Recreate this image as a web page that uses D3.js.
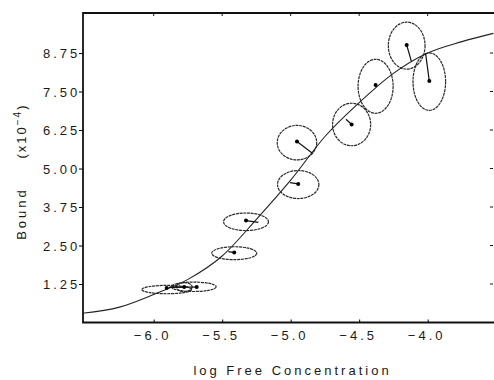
<!DOCTYPE html>
<html>
<head>
<meta charset="utf-8">
<script src="https://cdn.jsdelivr.net/npm/d3@7"></script>
<style>
  body { margin: 0; background: #fff; }
  text { font-family: "Liberation Sans", Arial, sans-serif; fill: #1a1a1a; }
</style>
</head>
<body>
<div id="container"></div>
<script>
// fitted binding curve
const curveX = [-6.52, -6.25, -6.0, -5.75, -5.5, -5.25, -5.0, -4.75, -4.5, -4.25, -4.0, -3.75, -3.52];
const curveY = [0.30, 0.50, 0.91, 1.40, 2.16, 3.35, 4.62, 6.04, 7.14, 8.09, 8.75, 9.12, 9.39];

// measured points (log free, bound x10^-4) and the point on the curve each one is tied to
const logF     = [-5.905, -5.777, -5.686, -5.412, -5.326, -4.945, -4.954, -4.555, -4.380, -4.153, -3.988];
const bound    = [1.12, 1.15, 1.15, 2.27, 3.31, 4.50, 5.88, 6.43, 7.71, 9.01, 7.84];
const fitLogF  = [-5.905, -5.890, -5.881, -5.455, -5.236, -5.005, -4.839, -4.596, -4.380, -4.118, -4.015];
const fitBound = [1.12, 1.14, 1.15, 2.30, 3.25, 4.54, 5.49, 6.60, 7.71, 8.47, 8.74];
// error ellipse centres and half-widths
const ellX = [-5.905, -5.777, -5.708, -5.412, -5.326, -4.945, -4.954, -4.555, -4.380, -4.153, -3.988];
const ellY = [1.07, 1.15, 1.16, 2.25, 3.27, 4.48, 5.84, 6.43, 7.67, 8.99, 7.82];
const errX = [0.182, 0.058, 0.164, 0.164, 0.164, 0.151, 0.144, 0.139, 0.128, 0.134, 0.119];
const errY = [0.136, 0.146, 0.153, 0.210, 0.285, 0.455, 0.560, 0.690, 0.877, 0.763, 0.932];

const xTicks = [-6.0, -5.5, -5.0, -4.5, -4.0];
const yTicks = [1.25, 2.50, 3.75, 5.00, 6.25, 7.50, 8.75];

const width = 494, height = 380;
const plotL = 83, plotR = 493, plotT = 13, plotB = 322.5;

const svg = d3.select("#container").append("svg")
  .attr("width", width)
  .attr("height", height);

const x = d3.scaleLinear().domain([-6.516, -3.523]).range([plotL, plotR]);
const y = d3.scaleLinear().domain([0, 10.05]).range([plotB, plotT]);

const pts = logF.map((d, i) => ({
  x: d, y: bound[i], fx: fitLogF[i], fy: fitBound[i],
  cx: ellX[i], cy: ellY[i], ex: errX[i], ey: errY[i]
}));

// axes (ticks + labels), the frame is drawn afterwards
const ls = "3px";
let yAxis = svg.append("g")
  .attr("transform", `translate(${plotL},0)`)
  .call(d3.axisLeft(y).tickValues(yTicks).tickFormat(d3.format(".2f")).tickSize(4));
yAxis.select(".domain").remove();
yAxis.selectAll("text")
  .attr("x", -2.7)
  .attr("dy", "0.38em")
  .attr("font-size", 13)
  .attr("letter-spacing", ls);

let xAxis = svg.append("g")
  .attr("transform", `translate(0,${plotB})`)
  .call(d3.axisBottom(x).tickValues(xTicks).tickFormat(d3.format(".1f")).tickSize(-3));
xAxis.select(".domain").remove();
xAxis.selectAll("text")
  .attr("y", 17.5)
  .attr("dy", 0)
  .attr("dx", "-1.5px")
  .attr("font-size", 13)
  .attr("letter-spacing", ls);

// inner ticks on top and right
svg.append("g").selectAll("line").data(xTicks).join("line")
  .attr("x1", d => x(d)).attr("x2", d => x(d))
  .attr("y1", plotT).attr("y2", plotT + 3)
  .attr("stroke", "#111");
svg.append("g").selectAll("line").data(yTicks).join("line")
  .attr("x1", plotR - 3).attr("x2", plotR)
  .attr("y1", d => y(d)).attr("y2", d => y(d))
  .attr("stroke", "#111");

// frame
svg.append("path")
  .attr("d", `M${width},${plotT}H${plotL}V${plotB}H${width}`)
  .attr("fill", "none")
  .attr("stroke", "#111")
  .attr("stroke-width", 1.8);

// curve
const line = d3.line().x(d => x(d[0])).y(d => y(d[1])).curve(d3.curveMonotoneX);
svg.append("path")
  .datum(curveX.map((d, i) => [d, curveY[i]]))
  .attr("d", line)
  .attr("fill", "none")
  .attr("stroke", "#222")
  .attr("stroke-width", 1.1);

// ellipses
svg.append("g").selectAll("ellipse").data(pts).join("ellipse")
  .attr("cx", d => x(d.cx))
  .attr("cy", d => y(d.cy))
  .attr("rx", d => x(d.cx + d.ex) - x(d.cx))
  .attr("ry", d => y(d.cy) - y(d.cy + d.ey))
  .attr("fill", "none")
  .attr("stroke", "#2a2a2a")
  .attr("stroke-width", 1.2)
  .attr("stroke-dasharray", "3,0.7");

// residual lines
svg.append("g").selectAll("line").data(pts).join("line")
  .attr("x1", d => x(d.x)).attr("y1", d => y(d.y))
  .attr("x2", d => x(d.fx)).attr("y2", d => y(d.fy))
  .attr("stroke", "#111")
  .attr("stroke-width", 1.2);

// points
svg.append("g").selectAll("circle").data(pts).join("circle")
  .attr("cx", d => x(d.x))
  .attr("cy", d => y(d.y))
  .attr("r", 2)
  .attr("fill", "#000");

// axis titles
svg.append("text")
  .attr("x", 292.5)
  .attr("y", 375)
  .attr("text-anchor", "middle")
  .attr("font-size", 13)
  .attr("letter-spacing", ls)
  .text("log Free Concentration");

svg.append("text")
  .attr("transform", "translate(25.5,213.5) rotate(-90)")
  .attr("text-anchor", "middle")
  .attr("font-size", 13)
  .attr("letter-spacing", ls)
  .text("Bound");

let unit = svg.append("text")
  .attr("transform", "translate(26,131) rotate(-90)")
  .attr("text-anchor", "middle")
  .attr("font-size", 13)
  .attr("letter-spacing", "2px");
unit.append("tspan").text("(x10");
unit.append("tspan").attr("dy", -5).attr("font-size", 10).text("−4");
unit.append("tspan").attr("dy", 5).text(")");
</script>
</body>
</html>
